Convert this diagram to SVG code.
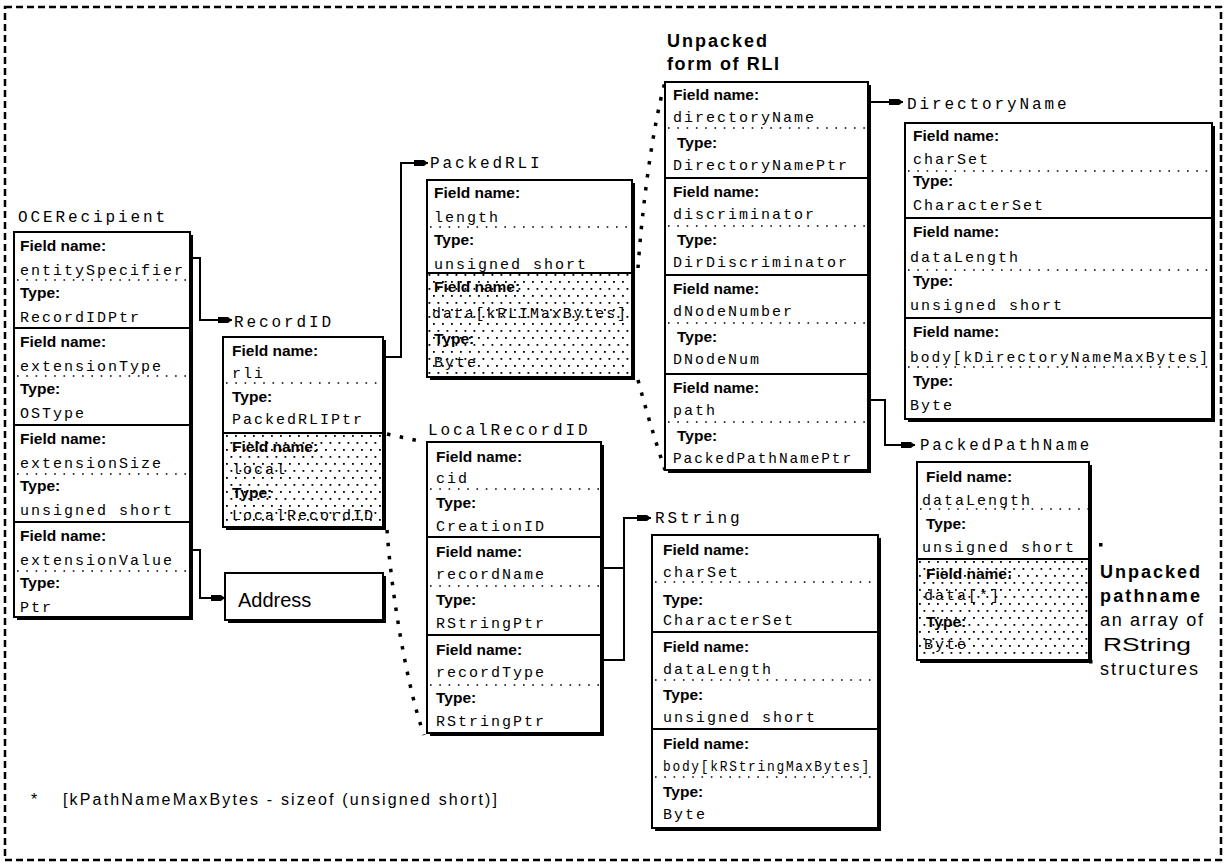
<svg xmlns="http://www.w3.org/2000/svg" width="1226" height="865" viewBox="0 0 1226 865">
<style>
.bg{fill:#fff}
.frame{fill:none;stroke:#000;stroke-width:2.5;stroke-dasharray:7 4}
.box{fill:#fff;stroke:#000;stroke-width:2}
.shadow{fill:#000}
.div{stroke:#000;stroke-width:2}
.dot{stroke:#000;stroke-width:1.6;stroke-dasharray:1.6 7.7;fill:none}
.big{stroke:#000;stroke-width:3.5;stroke-dasharray:3.5 9.5;fill:none}
.stip{fill:url(#stip)}
.lbl{font-family:"Liberation Sans",Arial,sans-serif;font-weight:bold;font-size:15.5px;fill:#000}
.val{font-family:"Liberation Mono","Courier New",monospace;font-size:15px;letter-spacing:2px;fill:#000}
.ttl{font-family:"Liberation Mono","Courier New",monospace;font-size:16px;letter-spacing:2.9px;fill:#000}
.bold{font-family:"Liberation Sans",Arial,sans-serif;font-weight:bold;font-size:18px;fill:#000}
.sans{font-family:"Liberation Sans",Arial,sans-serif;font-size:18px;fill:#000}
.con{fill:none;stroke:#000;stroke-width:2}
</style>
<defs>
<pattern id="stip" width="9" height="14" patternUnits="userSpaceOnUse">
<rect x="1" y="1" width="1.8" height="1.8" fill="#000"/>
<rect x="5.5" y="8" width="1.8" height="1.8" fill="#000"/>
</pattern>
<marker id="arr" markerUnits="userSpaceOnUse" markerWidth="16" markerHeight="10" refX="14" refY="5" orient="auto">
<path d="M0,2 H10 L14,5 L10,8 H0 Z" fill="#000"/>
</marker>
</defs>
<rect class="bg" x="0" y="0" width="1226" height="865"/>
<rect class="frame" x="5" y="7" width="1216" height="853"/>

<g id="connectors">
<path class="con" d="M190,258 H200 V320 H232" marker-end="url(#arr)"/>
<path class="con" d="M190,550 H200 V598 H225" marker-end="url(#arr)"/>
<path class="con" d="M383,357 H401 V163 H428" marker-end="url(#arr)"/>
<path class="con" d="M868,102 H903" marker-end="url(#arr)"/>
<path class="con" d="M868,400 H885 V445 H915" marker-end="url(#arr)"/>
<path class="con" d="M601,660 H624 V518 H651" marker-end="url(#arr)"/>
<path class="con" d="M601,568 H624"/>
<path class="big" d="M387,434 L424,442"/>
<path class="big" d="M387,530 C392,600 408,690 424,735"/>
<path class="big" d="M638,268 C642,210 652,130 665,82"/>
<path class="big" d="M638,380 C646,410 655,440 665,470"/>
<rect x="1099" y="543" width="3.5" height="3.5" fill="#000"/>
<rect x="1089" y="660" width="3.5" height="3.5" fill="#000"/>
</g>

<g id="OCERecipient">
<text class="ttl" x="18" y="222">OCERecipient</text>
<rect class="shadow" x="17" y="235" width="176" height="385"/>
<rect class="box" x="14" y="232" width="176" height="385"/>
<line class="div" x1="14" y1="328" x2="190" y2="328"/>
<line class="div" x1="14" y1="425" x2="190" y2="425"/>
<line class="div" x1="14" y1="522" x2="190" y2="522"/>
<line class="dot" x1="17" y1="280" x2="190" y2="280"/>
<line class="dot" x1="17" y1="376" x2="190" y2="376"/>
<line class="dot" x1="17" y1="474" x2="190" y2="474"/>
<line class="dot" x1="17" y1="571" x2="190" y2="571"/>
<text class="lbl" x="20" y="251">Field name:</text>
<text class="val" x="20" y="275">entitySpecifier</text>
<text class="lbl" x="20" y="298">Type:</text>
<text class="val" x="20" y="322">RecordIDPtr</text>
<text class="lbl" x="20" y="347">Field name:</text>
<text class="val" x="20" y="371">extensionType</text>
<text class="lbl" x="20" y="394">Type:</text>
<text class="val" x="20" y="418">OSType</text>
<text class="lbl" x="20" y="444">Field name:</text>
<text class="val" x="20" y="468">extensionSize</text>
<text class="lbl" x="20" y="491">Type:</text>
<text class="val" x="20" y="515">unsigned short</text>
<text class="lbl" x="20" y="541">Field name:</text>
<text class="val" x="20" y="565">extensionValue</text>
<text class="lbl" x="20" y="588">Type:</text>
<text class="val" x="20" y="612">Ptr</text>
</g>

<g id="Address">
<rect class="shadow" x="228" y="576" width="158" height="47"/>
<rect class="box" x="225" y="573" width="158" height="47"/>
<text class="sans" x="238" y="607" style="font-size:20px">Address</text>
</g>

<g id="RecordID">
<text class="ttl" x="234" y="327">RecordID</text>
<rect class="shadow" x="226" y="340" width="160" height="190"/>
<rect class="box" x="223" y="337" width="160" height="190"/>
<rect class="stip" x="224" y="434" width="158" height="92"/>
<line class="div" x1="223" y1="433" x2="383" y2="433"/>
<line class="dot" x1="226" y1="383" x2="383" y2="383"/>
<text class="lbl" x="232" y="356">Field name:</text>
<text class="val" x="232" y="378">rli</text>
<text class="lbl" x="232" y="402">Type:</text>
<text class="val" x="232" y="424">PackedRLIPtr</text>
<text class="lbl" x="232" y="452">Field name:</text>
<text class="val" x="232" y="474">local</text>
<text class="lbl" x="232" y="498">Type:</text>
<text class="val" x="232" y="520">LocalRecordID</text>
</g>

<g id="PackedRLI">
<text class="ttl" x="430" y="168">PackedRLI</text>
<rect class="shadow" x="430" y="183" width="205" height="197"/>
<rect class="box" x="427" y="180" width="205" height="197"/>
<rect class="stip" x="428" y="274" width="203" height="102"/>
<line class="div" x1="427" y1="273" x2="632" y2="273"/>
<line class="dot" x1="430" y1="227" x2="632" y2="227"/>
<text class="lbl" x="434" y="198">Field name:</text>
<text class="val" x="434" y="222">length</text>
<text class="lbl" x="434" y="245">Type:</text>
<text class="val" x="434" y="269">unsigned short</text>
<text class="lbl" x="434" y="292">Field name:</text>
<text class="val" x="432" y="318" textLength="196" lengthAdjust="spacingAndGlyphs">data[kRLIMaxBytes]</text>
<text class="lbl" x="434" y="344">Type:</text>
<text class="val" x="434" y="367">Byte</text>
</g>

<g id="UnpackedRLI">
<text class="bold" x="667" y="47" textLength="100">Unpacked</text>
<text class="bold" x="667" y="70" textLength="112">form of RLI</text>
<rect class="shadow" x="668" y="85" width="203" height="388"/>
<rect class="box" x="665" y="82" width="203" height="388"/>
<line class="div" x1="665" y1="178" x2="868" y2="178"/>
<line class="div" x1="665" y1="275" x2="868" y2="275"/>
<line class="div" x1="665" y1="374" x2="868" y2="374"/>
<line class="dot" x1="668" y1="128" x2="868" y2="128"/>
<line class="dot" x1="668" y1="226" x2="868" y2="226"/>
<line class="dot" x1="668" y1="323" x2="868" y2="323"/>
<line class="dot" x1="668" y1="422" x2="868" y2="422"/>
<text class="lbl" x="673" y="100">Field name:</text>
<text class="val" x="673" y="122">directoryName</text>
<text class="lbl" x="677" y="148">Type:</text>
<text class="val" x="673" y="170">DirectoryNamePtr</text>
<text class="lbl" x="673" y="197">Field name:</text>
<text class="val" x="673" y="219">discriminator</text>
<text class="lbl" x="677" y="245">Type:</text>
<text class="val" x="673" y="267">DirDiscriminator</text>
<text class="lbl" x="673" y="294">Field name:</text>
<text class="val" x="673" y="316">dNodeNumber</text>
<text class="lbl" x="677" y="342">Type:</text>
<text class="val" x="673" y="364">DNodeNum</text>
<text class="lbl" x="673" y="393">Field name:</text>
<text class="val" x="673" y="415">path</text>
<text class="lbl" x="677" y="441">Type:</text>
<text class="val" x="673" y="463" textLength="180" lengthAdjust="spacingAndGlyphs">PackedPathNamePtr</text>
</g>

<g id="DirectoryName">
<text class="ttl" x="907" y="109">DirectoryName</text>
<rect class="shadow" x="908" y="126" width="307" height="296"/>
<rect class="box" x="905" y="123" width="307" height="296"/>
<line class="div" x1="905" y1="218" x2="1212" y2="218"/>
<line class="div" x1="905" y1="318" x2="1212" y2="318"/>
<line class="dot" x1="908" y1="171" x2="1212" y2="171"/>
<line class="dot" x1="908" y1="270" x2="1212" y2="270"/>
<line class="dot" x1="908" y1="367" x2="1212" y2="367"/>
<text class="lbl" x="913" y="141">Field name:</text>
<text class="val" x="913" y="164">charSet</text>
<text class="lbl" x="913" y="186">Type:</text>
<text class="val" x="913" y="210">CharacterSet</text>
<text class="lbl" x="913" y="237">Field name:</text>
<text class="val" x="910" y="262">dataLength</text>
<text class="lbl" x="913" y="286">Type:</text>
<text class="val" x="910" y="310">unsigned short</text>
<text class="lbl" x="913" y="337">Field name:</text>
<text class="val" x="910" y="362" textLength="300" lengthAdjust="spacingAndGlyphs">body[kDirectoryNameMaxBytes]</text>
<text class="lbl" x="913" y="386">Type:</text>
<text class="val" x="910" y="410">Byte</text>
</g>

<g id="LocalRecordID">
<text class="ttl" x="428" y="435">LocalRecordID</text>
<rect class="shadow" x="430" y="445" width="174" height="291"/>
<rect class="box" x="427" y="442" width="174" height="291"/>
<line class="div" x1="427" y1="537" x2="601" y2="537"/>
<line class="div" x1="427" y1="635" x2="601" y2="635"/>
<line class="dot" x1="430" y1="489" x2="601" y2="489"/>
<line class="dot" x1="430" y1="586" x2="601" y2="586"/>
<line class="dot" x1="430" y1="685" x2="601" y2="685"/>
<text class="lbl" x="436" y="462">Field name:</text>
<text class="val" x="436" y="483">cid</text>
<text class="lbl" x="436" y="508">Type:</text>
<text class="val" x="436" y="531">CreationID</text>
<text class="lbl" x="436" y="557">Field name:</text>
<text class="val" x="436" y="579">recordName</text>
<text class="lbl" x="436" y="605">Type:</text>
<text class="val" x="436" y="628">RStringPtr</text>
<text class="lbl" x="436" y="655">Field name:</text>
<text class="val" x="436" y="677">recordType</text>
<text class="lbl" x="436" y="703">Type:</text>
<text class="val" x="436" y="726">RStringPtr</text>
</g>

<g id="RString">
<text class="ttl" x="655" y="523">RString</text>
<rect class="shadow" x="655" y="538" width="226" height="293"/>
<rect class="box" x="652" y="535" width="226" height="293"/>
<line class="div" x1="652" y1="632" x2="878" y2="632"/>
<line class="div" x1="652" y1="729" x2="878" y2="729"/>
<line class="dot" x1="655" y1="582" x2="878" y2="582"/>
<line class="dot" x1="655" y1="680" x2="878" y2="680"/>
<line class="dot" x1="655" y1="777" x2="878" y2="777"/>
<text class="lbl" x="663" y="555">Field name:</text>
<text class="val" x="663" y="577">charSet</text>
<text class="lbl" x="663" y="605">Type:</text>
<text class="val" x="663" y="625">CharacterSet</text>
<text class="lbl" x="663" y="652">Field name:</text>
<text class="val" x="663" y="674">dataLength</text>
<text class="lbl" x="663" y="700">Type:</text>
<text class="val" x="663" y="722">unsigned short</text>
<text class="lbl" x="663" y="749">Field name:</text>
<text class="val" x="663" y="771" textLength="208" lengthAdjust="spacingAndGlyphs">body[kRStringMaxBytes]</text>
<text class="lbl" x="663" y="797">Type:</text>
<text class="val" x="663" y="819">Byte</text>
</g>

<g id="PackedPathName">
<text class="ttl" x="920" y="450" textLength="172" lengthAdjust="spacingAndGlyphs">PackedPathName</text>
<rect class="shadow" x="920" y="465" width="172" height="198"/>
<rect class="box" x="917" y="462" width="172" height="198"/>
<rect class="stip" x="918" y="560" width="170" height="99"/>
<line class="div" x1="917" y1="559" x2="1089" y2="559"/>
<line class="dot" x1="920" y1="509" x2="1089" y2="509"/>
<text class="lbl" x="926" y="482">Field name:</text>
<text class="val" x="922" y="505">dataLength</text>
<text class="lbl" x="926" y="529">Type:</text>
<text class="val" x="922" y="552">unsigned short</text>
<text class="lbl" x="926" y="579">Field name:</text>
<text class="val" x="924" y="600">data[*]</text>
<text class="lbl" x="926" y="627">Type:</text>
<text class="val" x="924" y="649">Byte</text>
</g>

<g id="note">
<text class="bold" x="1100" y="578" textLength="100">Unpacked</text>
<text class="bold" x="1100" y="602" textLength="100">pathname</text>
<text class="sans" x="1100" y="626" textLength="103">an array of</text>
<text class="sans" x="1103" y="651" textLength="88" lengthAdjust="spacingAndGlyphs">RString</text>
<text class="sans" x="1100" y="675" textLength="98">structures</text>
</g>

<g id="footnote">
<text class="sans" x="31" y="805" style="font-size:16px">*</text>
<text class="sans" x="63" y="805" style="font-size:16px" textLength="434" lengthAdjust="spacing">[kPathNameMaxBytes - sizeof (unsigned short)]</text>
</g>
</svg>
